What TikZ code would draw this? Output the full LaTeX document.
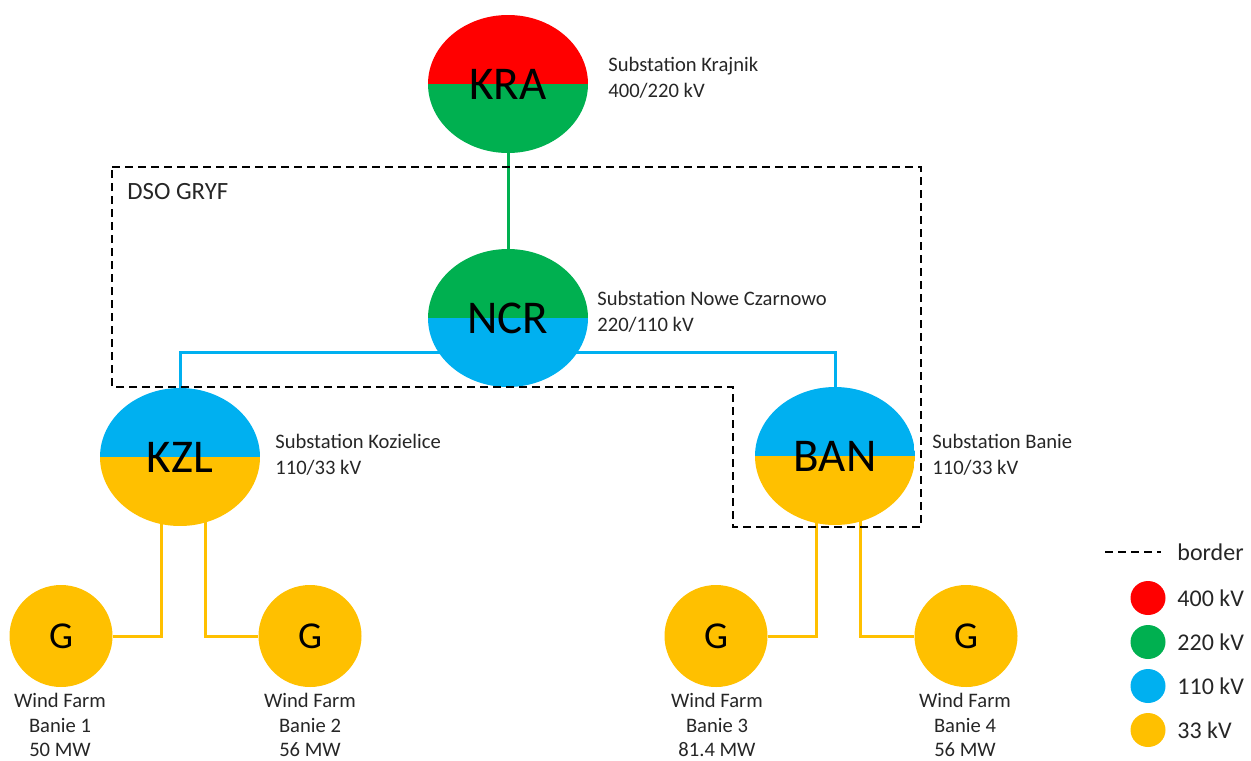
\documentclass[tikz,border=0pt]{standalone}
\usepackage{fontspec}
\setmainfont{Carlito}
\usetikzlibrary{shapes.geometric,backgrounds}
\definecolor{kvred}{HTML}{FF0000}
\definecolor{kvgreen}{HTML}{00B050}
\definecolor{kvblue}{HTML}{00B0F0}
\definecolor{kvyellow}{HTML}{FFC000}
\tikzset{
  sub/.style 2 args={ellipse, minimum width=80pt, minimum height=69pt, inner sep=0pt,
    font=\fontsize{23.5}{23.5}\selectfont,
    path picture={
      \fill[#1] (path picture bounding box.north west) rectangle (path picture bounding box.east);
      \fill[#2] (path picture bounding box.west) rectangle (path picture bounding box.south east);}},
  gen/.style={ellipse, fill=kvyellow, minimum width=51.5pt, minimum height=51pt, inner sep=0pt,
    font=\fontsize{19}{19}\selectfont},
  info/.style={anchor=west, align=left, inner sep=0pt, text=black!85, font=\fontsize{10.3}{13}\selectfont},
  farm/.style={align=center, inner sep=0pt, text=black!85, font=\fontsize{10.3}{12.3}\selectfont},
  wire/.style={line width=1.5pt, #1},
  border/.style={dash pattern=on 4pt off 2.5pt, line width=1pt},
  legdot/.style={ellipse, fill=#1, minimum width=17.5pt, minimum height=17pt, inner sep=0pt},
  legtext/.style={anchor=west, inner sep=0pt, text=black!85, font=\fontsize{12}{12}\selectfont}
}
\begin{document}
\begin{tikzpicture}[x=0.5pt, y=-0.5pt]
\useasboundingbox (0,0) rectangle (1251,760);
% substations
\node[sub={kvred}{kvgreen}] (kra) at (508,84){KRA};
\node[sub={kvgreen}{kvblue}] (ncr) at (508,318){NCR};
\node[sub={kvblue}{kvyellow}] (kzl) at (180,457){KZL};
\node[sub={kvblue}{kvyellow}] (ban) at (835,456){BAN};
\node[info] (kratxt) at (608,78){Substation Krajnik\\400/220 kV};
\node[info] (ncrtxt) at (597,312){Substation Nowe Czarnowo\\220/110 kV};
\node[info] (kzltxt) at (275,455){Substation Kozielice\\110/33 kV};
\node[info] (bantxt) at (932,455){Substation Banie\\110/33 kV};
% wind farms
\node[gen] (g1) at (61,636){G};
\node[gen] (g2) at (310,636){G};
\node[gen] (g3) at (716,636){G};
\node[gen] (g4) at (966,636){G};
\node[farm] (g1txt) at (60,725){Wind Farm\\Banie 1\\50 MW};
\node[farm] (g2txt) at (310,725){Wind Farm\\Banie 2\\56 MW};
\node[farm] (g3txt) at (717,725){Wind Farm\\Banie 3\\81.4 MW};
\node[farm] (g4txt) at (965,725){Wind Farm\\Banie 4\\56 MW};
% lines
\begin{scope}[on background layer]
\draw[wire=kvgreen](kra) -- (ncr);
\draw[wire=kvblue]([yshift=-17pt]ncr.center) -| (kzl);
\draw[wire=kvblue]([yshift=-17pt]ncr.center) -| (ban);
\draw[wire=kvyellow]([xshift=-9.5pt]kzl.center) |- (g1);
\draw[wire=kvyellow]([xshift=12.5pt]kzl.center) |- (g2);
\draw[wire=kvyellow]([xshift=-9.5pt]ban.center) |- (g3);
\draw[wire=kvyellow]([xshift=12.5pt]ban.center) |- (g4);
\end{scope}
% DSO border
\draw[border] (112,167) -- (921,167) -- (921,527) -- (733,527) -- (733,387) -- (112,387) -- cycle;
\node[anchor=west, inner sep=0pt, text=black!85, font=\fontsize{12.4}{12.4}\selectfont] (dso) at (127,192){DSO GRYF};
% legend
\draw[border] (1105,552) -- (1161,552);
\node[legtext] (lborder) at (1177,552){border};
\node[legdot=kvred] (l400) at (1148,598){};
\node[legdot=kvgreen] (l220) at (1148,642){};
\node[legdot=kvblue] (l110) at (1148,686){};
\node[legdot=kvyellow] (l33) at (1148,730){};
\node[legtext] (t400) at (1177,598){400 kV};
\node[legtext] (t220) at (1177,642){220 kV};
\node[legtext] (t110) at (1177,686){110 kV};
\node[legtext] (t33) at (1177,730){33 kV};
\end{tikzpicture}
\end{document}
